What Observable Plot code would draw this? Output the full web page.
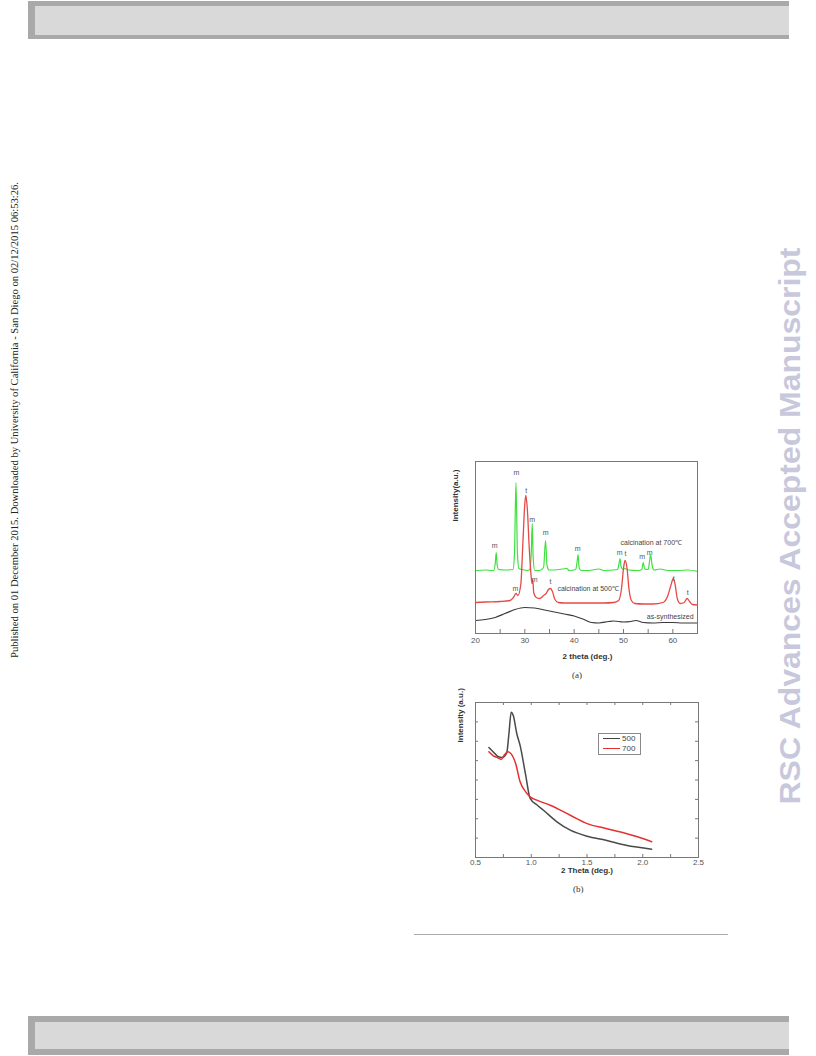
<!DOCTYPE html>
<html><head><meta charset="utf-8">
<script src="https://cdn.jsdelivr.net/npm/d3@7"></script>
<script src="https://cdn.jsdelivr.net/npm/@observablehq/plot@0.6"></script>
<style>
html,body{margin:0;padding:0;background:#fff;}
#page{position:relative;width:816px;height:1056px;overflow:hidden;background:#fff;font-family:"Liberation Sans",Arial,sans-serif;}
.bar{position:absolute;left:28px;width:761px;background:#a9a9a9;}
.bar .in{position:absolute;left:7px;right:0;background:#d9d9d9;}
.abs{position:absolute;}
.cap{position:absolute;font-family:"Liberation Serif","Times New Roman",serif;font-size:9px;color:#333;}
#legendB{position:absolute;left:598px;top:733px;width:41px;height:20px;border:1px solid #8a8a8a;background:#fff;font-size:8px;color:#444;}
#legendB .row{position:absolute;left:4px;height:10px;line-height:10px;}
#legendB .sw{display:inline-block;width:17px;height:0;border-top:1.5px solid #444;vertical-align:middle;margin-right:2px;}
</style></head>
<body><div id="page">
<div class="bar" style="top:1px;height:38px;"><div class="in" style="top:5px;height:29px;"></div></div>
<div class="bar" style="top:1016px;height:39px;"><div class="in" style="top:6px;height:27px;"></div></div>
<svg class="abs" style="left:0;top:0" width="30" height="1056">
  <text transform="translate(18,420) rotate(-90)" text-anchor="middle" font-family="Liberation Serif, Times New Roman, serif" font-size="10" fill="#222" textLength="476" lengthAdjust="spacingAndGlyphs">Published on 01 December 2015. Downloaded by University of California - San Diego on 02/12/2015 06:53:26.</text>
</svg>
<svg class="abs" style="left:760px;top:0" width="56" height="1056">
  <text transform="translate(40,526) rotate(-90)" text-anchor="middle" font-family="Liberation Sans, Arial, sans-serif" font-weight="bold" font-size="30" fill="#c8c8dc" textLength="557" lengthAdjust="spacingAndGlyphs">RSC Advances Accepted Manuscript</text>
</svg>
<div id="chartA" class="abs" style="left:440px;top:455px;"></div>
<div id="chartB" class="abs" style="left:440px;top:695px;"></div>
<div id="legendB">
  <div class="row" style="top:0px;"><span class="sw" style="border-color:#444"></span>500</div>
  <div class="row" style="top:10px;"><span class="sw" style="border-color:#e53030"></span>700</div>
</div>
<div class="abs" style="left:414px;top:934px;width:314px;height:0;border-top:1.5px solid #aaa;"></div>
</div>
<script>
// ---------- Chart (a): XRD patterns ----------
const theta700 = [20,22,23.7,24.0,24.2,24.4,24.7,26,27.6,27.9,28.2,28.5,28.8,29.5,30.5,31.0,31.3,31.5,31.7,32.0,33.0,33.8,34.2,34.5,34.9,36,38.5,39,40.3,40.6,40.8,41.0,41.4,43,45.0,46,48.8,49.1,49.3,49.5,49.9,50.3,51,53.0,53.7,54.0,54.3,55.0,55.3,55.5,55.8,56.2,57.5,59,61,63,65];
const int700   = [63,63.5,63,70,81,68,64,63.5,64,80,151,80,65,64,63,64,80,110,75,63,63,66,93,68,63.5,63.5,65,63,64,72,79,66,63,63,64.5,63,64,70,75,67,64,65,63.5,63,64,71,64.5,64,73,79,68,63.5,64.5,63,63,63.5,62];
const theta500 = [20,22,25,27.0,27.8,28.2,28.6,29.2,29.6,30.0,30.2,30.5,30.9,31.2,31.45,31.6,31.8,32.3,33.0,33.8,34.3,34.8,35.2,35.6,36.1,36.8,38,40,43,46,48,49.0,49.6,50.0,50.3,50.7,51.1,51.6,52.3,54,56,58,59.0,59.6,60.1,60.5,60.9,61.5,62.3,62.9,63.4,64.0,65];
const int500   = [31,31.5,32,33,37,40,38,50,90,130,138,125,85,62,50,54,41,36,35,38,40,44,45,42,34,31,30.5,30.5,30.5,30.5,31,33,45,65,73,66,45,33,30,29.5,29.5,31,38,48,55,48,35,30,31,35,32,29,28.5];
const thetaAs  = [20,22,24,26,28,30,32,34,36,38,40,42,43.5,45,47,48,50,51.5,52.5,54,56,58,60,62,65];
const intAs    = [13,14,16,20,24,26,25.5,23.5,21.5,19.5,17.5,14,11,10.5,12,12.5,11.5,12,13,11,10.5,11,11,10.5,10.5];
const xTicksA = [20,30,40,50,60];
const xMinorA = [25,35,45,55,65];
const peakLabelX = [23.9,28.3,30.3,31.5,34.2,40.7,49.2,50.4,53.8,55.3,28.1,32.0,35.2,60.2,63.0];
const peakLabelY = [88,161,143,114,101,85,81,80,77,81,45,54,52,55,41];
const peakLabelText = ["m","m","t","m","m","m","m","t","m","m","m","m","t","t","t"];
const seriesLabelText = ["calcination at 700℃","calcination at 500℃","as-synthesized"];
const seriesLabelX = [49.4,36.6,64.2];
const seriesLabelY = [91,45,17];
const seriesLabelAnchor = ["start","start","end"];

// ---------- Chart (b): low-angle XRD ----------
const theta500b = [0.62,0.66,0.70,0.74,0.78,0.80,0.82,0.84,0.87,0.90,0.95,0.99,1.05,1.11,1.23,1.35,1.50,1.67,1.85,2.08];
const int500b   = [5.68,5.45,5.22,5.16,5.40,6.40,7.50,7.30,6.40,5.79,4.25,3.05,2.72,2.44,1.84,1.41,1.10,0.89,0.63,0.43];
const theta700b = [0.62,0.66,0.70,0.73,0.76,0.79,0.82,0.86,0.90,0.95,0.99,1.05,1.17,1.35,1.50,1.67,1.85,2.00,2.08];
const int700b   = [5.46,5.25,5.15,5.06,5.30,5.46,5.35,4.85,3.91,3.39,3.13,2.96,2.70,2.18,1.75,1.50,1.24,0.98,0.81];
const xTicksB = [0.5,1.0,1.5,2.0,2.5];
const xAllTicksB = [0.5,0.75,1.0,1.25,1.5,1.75,2.0,2.25,2.5];
const yTicksB = [1,2,3,4,5,6,7];

const zipXY = (xs, ys) => xs.map((x,i)=>({x, y: ys[i]}));
const baseStyle = {fontFamily:'"Liberation Sans", Arial, sans-serif', fontSize:"8px", color:"#555", background:"transparent", overflow:"visible"};
const seriesLabels = seriesLabelText.map((t,i)=>({t, x: seriesLabelX[i], y: seriesLabelY[i], a: seriesLabelAnchor[i]}));
const peakLabels = peakLabelText.map((t,i)=>({t, x: peakLabelX[i], y: peakLabelY[i]}));

const A_H = 230, A_mt = 6, A_mb = 52, A_fh = A_H - A_mt - A_mb;
const chartA = Plot.plot({
  width: 270, height: A_H, marginLeft: 35, marginRight: 13, marginTop: A_mt, marginBottom: A_mb,
  x: {domain: [20,65]}, y: {domain: [0, A_fh], axis: null},
  style: baseStyle,
  marks: [
    Plot.tickX(xTicksA.concat(xMinorA), {x: d=>d, insetTop: A_fh-4, stroke:"#777"}),
    Plot.axisX({ticks: xTicksA, tickSize: 0, tickPadding: 4, label: null}),
    Plot.line(zipXY(thetaAs, intAs), {x:"x", y:"y", stroke:"#3a3a3a", strokeWidth:1.2, curve:"monotone-x"}),
    Plot.line(zipXY(theta700, int700), {x:"x", y:"y", stroke:"#3fe03f", strokeWidth:1.2, curve:"monotone-x"}),
    Plot.line(zipXY(theta500, int500), {x:"x", y:"y", stroke:"#e54a45", strokeWidth:1.3, curve:"monotone-x"}),
    Plot.text(peakLabels, {x:"x", y:"y", text:"t", fontSize:7, fill:"#555"}),
    Plot.text(seriesLabels.filter(d=>d.a==="start"), {x:"x", y:"y", text:"t", textAnchor:"start", fontSize:7, fill:"#444"}),
    Plot.text(seriesLabels.filter(d=>d.a==="end"), {x:"x", y:"y", text:"t", textAnchor:"end", fontSize:7, fill:"#444"}),
    Plot.text(["2 theta (deg.)"], {x: 42.7, frameAnchor:"bottom", dy: 25, text:d=>d, fontWeight:"bold", fontSize:8, fill:"#333"}),
    Plot.text(["Intensity(a.u.)"], {y: 112, frameAnchor:"left", dx:-20, rotate:-90, text:d=>d, fontWeight:"bold", fontSize:8, fill:"#333"}),
    Plot.frame({stroke:"#777"})
  ]
});
document.getElementById("chartA").appendChild(chartA);

const B_H = 205, B_W = 275, B_ml = 35, B_mr = 17, B_mt = 7, B_mb = 43, B_fh = B_H - B_mt - B_mb, B_fw = B_W - B_ml - B_mr;
const chartB = Plot.plot({
  width: B_W, height: B_H, marginLeft: B_ml, marginRight: B_mr, marginTop: B_mt, marginBottom: B_mb,
  x: {domain: [0.5,2.5]}, y: {domain: [0,8], axis: null},
  style: baseStyle,
  marks: [
    Plot.tickX(xAllTicksB, {x:d=>d, insetTop: B_fh-3, stroke:"#777"}),
    Plot.tickX(xAllTicksB, {x:d=>d, insetBottom: B_fh-3, stroke:"#777"}),
    Plot.tickY(yTicksB, {y:d=>d, insetRight: B_fw-3, stroke:"#777"}),
    Plot.tickY(yTicksB, {y:d=>d, insetLeft: B_fw-3, stroke:"#777"}),
    Plot.axisX({ticks: xTicksB, tickSize: 0, tickPadding: 2, tickFormat: d=>d.toFixed(1), label: null}),
    Plot.line(zipXY(theta500b, int500b), {x:"x", y:"y", stroke:"#4a4a4a", strokeWidth:1.5, curve:"monotone-x"}),
    Plot.line(zipXY(theta700b, int700b), {x:"x", y:"y", stroke:"#e53030", strokeWidth:1.5, curve:"monotone-x"}),
    Plot.text(["2 Theta (deg.)"], {x: 1.5, frameAnchor:"bottom", dy: 15, text:d=>d, fontWeight:"bold", fontSize:8, fill:"#333"}),
    Plot.text(["Intensity (a.u.)"], {y: 5.94, frameAnchor:"left", dx:-15, rotate:-90, text:d=>d, fontWeight:"bold", fontSize:8, fill:"#333"}),
    Plot.frame({stroke:"#777"})
  ]
});
document.getElementById("chartB").appendChild(chartB);
</script>
<div class="cap" style="left:572px;top:670px;">(a)</div>
<div class="cap" style="left:573px;top:884px;">(b)</div>
</body></html>
